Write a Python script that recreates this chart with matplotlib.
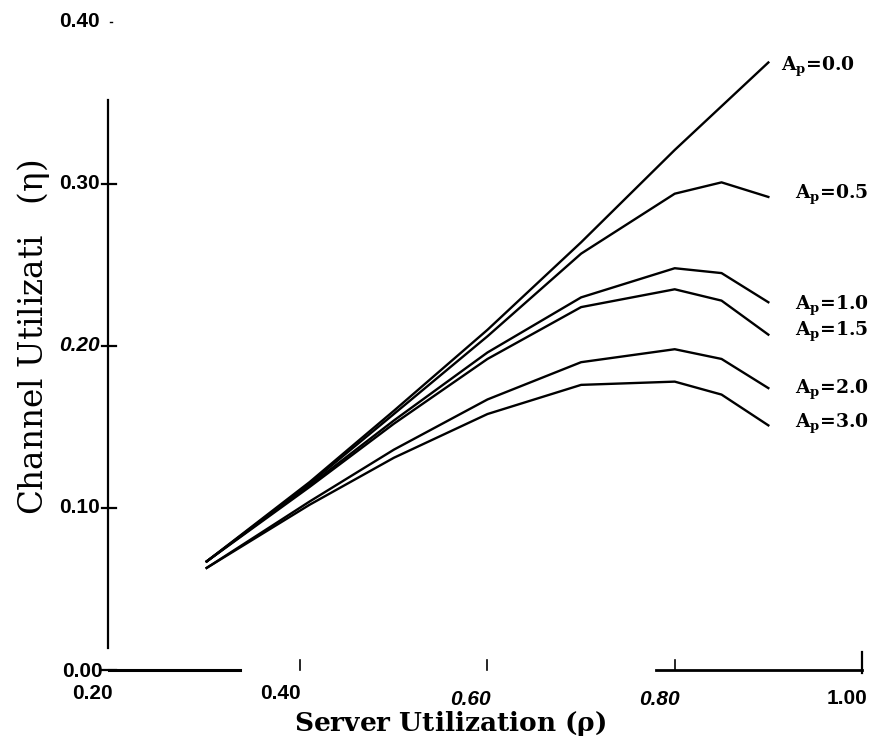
import numpy as np
import matplotlib.pyplot as plt
from matplotlib import rc

rc('mathtext', default='regular')
rc('mathtext', fontset='dejavuserif')

# server utilization (rho) at the breakpoints of each curve
rho = [0.30, 0.41, 0.50, 0.60, 0.70, 0.80, 0.85, 0.90]

# channel utilization (eta) per persistence A_p
eta_ap00 = [0.067, 0.116, 0.160, 0.210, 0.264, 0.321, 0.348, 0.375]
eta_ap05 = [0.067, 0.115, 0.158, 0.206, 0.257, 0.294, 0.301, 0.292]
eta_ap10 = [0.067, 0.114, 0.154, 0.196, 0.230, 0.248, 0.245, 0.227]
eta_ap15 = [0.067, 0.113, 0.152, 0.192, 0.224, 0.235, 0.228, 0.207]
eta_ap20 = [0.063, 0.104, 0.136, 0.167, 0.190, 0.198, 0.192, 0.174]
eta_ap30 = [0.063, 0.102, 0.131, 0.158, 0.176, 0.178, 0.170, 0.151]

curves = [eta_ap00, eta_ap05, eta_ap10, eta_ap15, eta_ap20, eta_ap30]
curve_names = ["0.0", "0.5", "1.0", "1.5", "2.0", "3.0"]
label_y = [0.372, 0.293, 0.225, 0.209, 0.173, 0.152]

xtick_vals = [0.20, 0.40, 0.60, 0.80, 1.00]
ytick_vals = [0.00, 0.10, 0.20, 0.30, 0.40]


def initFigure():
    fig = plt.figure(figsize=(8.72, 7.4), dpi=100)
    ax = fig.add_axes([0.1296, 0.0946, 0.8589, 0.8757])
    ax.set_xlim(0.2, 1.0)
    ax.set_ylim(0.0, 0.4)
    for s in ax.spines.values():
        s.set_visible(False)
    ax.set_xticks([])
    ax.set_yticks([])
    return fig, ax


def drawAxes(ax):
    k = dict(color='black', lw=1.6, clip_on=False)
    # left axis (starts below 0.40 as in the scan)
    ax.plot([0.1947, 0.1947], [0.0136, 0.352], **k)
    # broken bottom axis
    ax.plot([0.196, 0.336], [0.0, 0.0], lw=2.2, color='black', clip_on=False)
    ax.plot([0.78, 1.0], [0.0, 0.0], lw=2.0, color='black', clip_on=False)
    # small ticks
    for yv in ytick_vals[:-1]:
        ax.plot([0.188, 0.203], [yv, yv], **k)
    ax.plot([0.197, 0.199], [0.40, 0.40], color='black', lw=1.0, clip_on=False)
    for xv in xtick_vals[1:-1]:
        ax.plot([xv, xv], [0.0, 0.006], color='black', lw=1.2, clip_on=False)
    ax.plot([1.0, 1.0], [-0.002, 0.011], **k)

    fnt = dict(family='Liberation Sans', weight='bold', fontsize=15)
    for yv in ytick_vals:
        style = 'italic' if yv == 0.20 else 'normal'
        xpos = 0.1895 if yv == 0.0 else 0.186
        ypos = yv - 0.0012 if yv == 0.0 else yv
        ax.text(xpos, ypos, "%.2f" % yv, ha='right', va='center',
                style=style, clip_on=False, **fnt)
    xlab_x = [0.1775, 0.3786, 0.5818, 0.784, 0.984]
    xlab_y = [-0.0142, -0.0142, -0.0185, -0.0185, -0.0179]
    for xv, xx, yy in zip(xtick_vals, xlab_x, xlab_y):
        style = 'italic' if xv in (0.60, 0.80) else 'normal'
        ax.text(xx, yy, "%.2f" % xv, ha='center', va='center',
                style=style, clip_on=False, **fnt)

    ax.text(0.5604, -0.0376, r"Server Utilization ($\rho$)", ha='center',
            va='baseline', family='DejaVu Serif', weight='bold', fontsize=19,
            clip_on=False)
    ax.text(0.1155, 0.2055, r"Channel Utilizati   ($\eta$)", rotation=90,
            ha='center', va='center', family='DejaVu Serif', fontsize=23.5,
            clip_on=False)


def plotCurves(ax):
    for eta, name, ly in zip(curves, curve_names, label_y):
        ax.plot(rho, eta, '-', color='black', lw=1.7)
        xl = 0.914 if name == "0.0" else 0.928
        ax.text(xl, ly, r"A$_p$=" + name, ha='left', va='center',
                family='DejaVu Serif', weight='bold', fontsize=13.5,
                clip_on=False)


fig, ax = initFigure()
drawAxes(ax)
plotCurves(ax)
fig.savefig('out.png', dpi=100)
